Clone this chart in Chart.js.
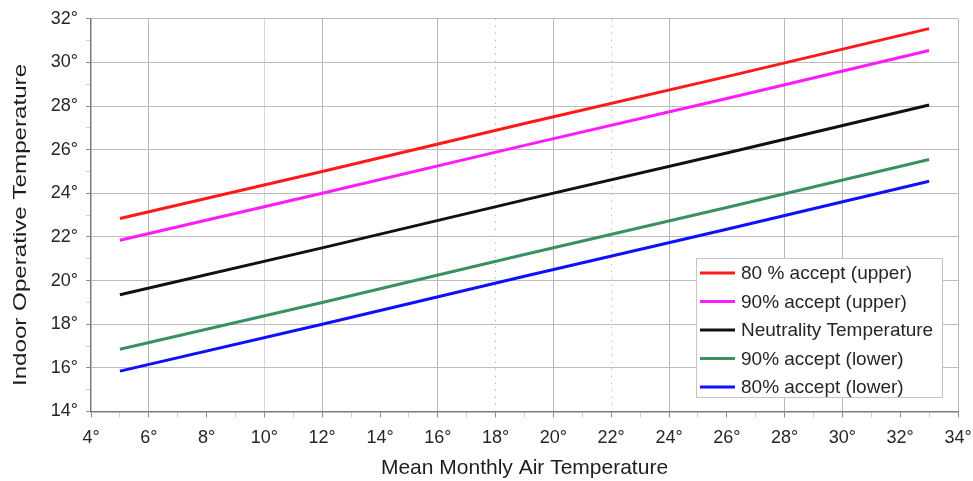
<!DOCTYPE html>
<html>
<head>
<meta charset="utf-8">
<script src="https://cdn.jsdelivr.net/npm/chart.js@4/dist/chart.umd.min.js"></script>
<style>
  html, body { margin: 0; padding: 0; background: #ffffff; }
  #wrap { position: relative; width: 973px; height: 481px; }
</style>
</head>
<body>
<div id="wrap"><canvas id="c"></canvas></div>
<script>
// ---- data ----
const meanTemps = [5, 12, 19, 26, 33];
const accept80Upper = [22.85, 25.0, 27.2, 29.35, 31.55];
const accept90Upper = [21.85, 24.0, 26.2, 28.35, 30.55];
const neutrality    = [19.35, 21.5, 23.7, 25.85, 28.05];
const accept90Lower = [16.85, 19.0, 21.2, 23.35, 25.55];
const accept80Lower = [15.85, 18.0, 20.2, 22.35, 24.55];

const seriesNames = ['80 % accept (upper)', '90% accept (upper)', 'Neutrality Temperature', '90% accept (lower)', '80% accept (lower)'];
const seriesColors = ['#ff1a1a', '#ff1aff', '#111111', '#3a8f63', '#1010ff'];
const seriesValues = [accept80Upper, accept90Upper, neutrality, accept90Lower, accept80Lower];

const xMin = 4, xMax = 34, yMin = 14, yMax = 32;
const xSolidGrid = [6, 12, 16, 20, 24, 28, 30, 34];
const xLightGrid = [10];
const xDottedGrid = [18, 22];
const yAxisTitle = 'Indoor Operative Temperature';
const xAxisTitle = 'Mean Monthly Air Temperature';

const FONT = "'Liberation Sans', Arial, sans-serif";

const datasets = seriesNames.map((name, i) => ({
  label: name,
  data: meanTemps.map((t, j) => ({ x: t, y: seriesValues[i][j] })),
  borderColor: seriesColors[i],
  backgroundColor: seriesColors[i],
  borderWidth: 3,
  pointRadius: 0,
  tension: 0,
  fill: false
}));

const legendPlugin = {
  id: 'insideLegend',
  afterDraw(chart) {
    const { ctx, chartArea } = chart;
    const right = chartArea.right - 16;
    const bottom = chartArea.bottom - 14.5;
    const w = 246, h = 139;
    const left = right - w, top = bottom - h;
    ctx.save();
    ctx.fillStyle = '#ffffff';
    ctx.fillRect(left, top, w, h);
    ctx.strokeStyle = '#c4c4c4';
    ctx.lineWidth = 1;
    ctx.strokeRect(left + 0.5, top + 0.5, w, h);
    ctx.font = '19px ' + FONT;
    ctx.textBaseline = 'middle';
    ctx.textAlign = 'left';
    chart.data.datasets.forEach((ds, i) => {
      const y = top + 15 + i * 28.5;
      ctx.strokeStyle = ds.borderColor;
      ctx.lineWidth = 3;
      ctx.beginPath();
      ctx.moveTo(left + 4, y);
      ctx.lineTo(left + 39, y);
      ctx.stroke();
      ctx.fillStyle = '#262626';
      ctx.fillText(ds.label, left + 45, y + 1);
    });
    ctx.restore();
  }
};

// y-axis title: drawn as text, stretched along its length like the reference
const yTitlePlugin = {
  id: 'yTitle',
  afterDraw(chart) {
    const { ctx } = chart;
    ctx.save();
    ctx.translate(21, 225);
    ctx.rotate(-Math.PI / 2);
    ctx.scale(1.38, 1);
    ctx.font = '17.5px ' + FONT;
    ctx.fillStyle = '#1e1e1e';
    ctx.textAlign = 'center';
    ctx.textBaseline = 'middle';
    ctx.fillText(yAxisTitle, 0, 0);
    ctx.restore();
  }
};

new Chart(document.getElementById('c'), {
  type: 'line',
  data: { datasets },
  plugins: [legendPlugin, yTitlePlugin],
  options: {
    responsive: true,
    maintainAspectRatio: false,
    animation: false,
    layout: { padding: { top: 18.5, right: 15, left: 0, bottom: 0 } },
    plugins: { legend: { display: false }, tooltip: { enabled: false } },
    scales: {
      x: {
        type: 'linear',
        min: xMin, max: xMax,
        afterFit(s) { s.height = 69.5; s.paddingRight = 0; s.paddingLeft = 0; },
        ticks: {
          stepSize: 1,
          autoSkip: false,
          maxRotation: 0,
          padding: 10,
          color: '#262626',
          font: { family: FONT, size: 18 },
          callback: v => (v % 2 === 0 ? v + '°' : '')
        },
        grid: {
          lineWidth: 1,
          tickLength: 6,
          color: c => {
            const v = c.tick ? c.tick.value : null;
            if (xSolidGrid.includes(v)) return '#b8b8b8';
            if (xLightGrid.includes(v)) return '#d8d8d8';
            if (xDottedGrid.includes(v)) return '#a0a0a0';
            return 'rgba(0,0,0,0)';
          },
          tickColor: c => {
            const v = c.tick ? c.tick.value : null;
            return v % 2 === 0 ? '#8a8a8a' : '#d0d0d0';
          }
        },
        border: {
          display: true, color: '#7a7a7a', width: 1.5,
          dash: c => (c.tick && xDottedGrid.includes(c.tick.value) ? [1, 6] : [])
        },
        title: {
          display: true,
          text: xAxisTitle,
          color: '#1e1e1e',
          font: { family: FONT, size: 21 },
          padding: { top: 0, bottom: 0 }
        }
      },
      y: {
        type: 'linear',
        min: yMin, max: yMax,
        afterFit(s) { s.width = 91; },
        ticks: {
          stepSize: 1,
          autoSkip: false,
          padding: 8,
          color: '#262626',
          font: { family: FONT, size: 18 },
          callback: v => (v % 2 === 0 ? v + '°' : '')
        },
        grid: {
          lineWidth: 1,
          tickLength: 5,
          color: c => {
            const v = c.tick ? c.tick.value : null;
            return v % 2 === 0 ? '#bcbcbc' : 'rgba(0,0,0,0)';
          },
          tickColor: c => {
            const v = c.tick ? c.tick.value : null;
            return v % 2 === 0 ? '#8a8a8a' : '#d0d0d0';
          }
        },
        border: { display: true, color: '#7a7a7a', width: 1.5 },
        title: { display: false }
      }
    }
  }
});
</script>
</body>
</html>
